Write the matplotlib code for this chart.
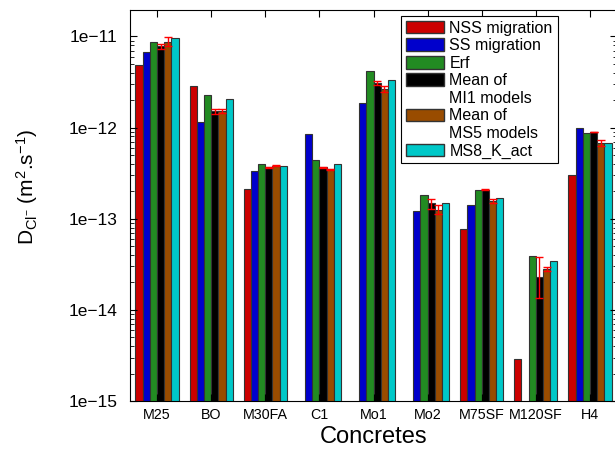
import numpy as np
import matplotlib
matplotlib.use("Agg")
import matplotlib.pyplot as plt
from matplotlib.patches import Patch
from matplotlib.ticker import FixedLocator, LogLocator, NullFormatter

plt.rcParams['font.family'] = ['Liberation Sans', 'DejaVu Sans']
plt.rcParams['mathtext.fontset'] = 'custom'
plt.rcParams['mathtext.rm'] = 'Liberation Sans'
plt.rcParams['mathtext.it'] = 'Liberation Sans'

concretes = ["M25", "BO", "M30FA", "C1", "Mo1", "Mo2", "M75SF", "M120SF", "H4"]
series_names = ["NSS migration", "SS migration", "Erf", "Mean of MI1 models",
                "Mean of MS5 models", "MS8_K_act"]
nan = np.nan
nss = [4.8e-12, 2.85e-12, 2.13e-13, nan, nan, nan, 7.8e-14, 2.9e-15, 3.05e-13]
ss = [6.7e-12, 1.16e-12, 3.37e-13, 8.4e-13, 1.84e-12, 1.23e-13, 1.43e-13, nan, 9.9e-13]
erf = [8.7e-12, 2.27e-12, 4.0e-13, 4.37e-13, 4.13e-12, 1.82e-13, 2.07e-13, 3.9e-14, 8.7e-13]
mi1 = [7.8e-12, 1.51e-12, 3.66e-13, 3.66e-13, 3.1e-12, 1.49e-13, 2.07e-13, 2.29e-14, 8.9e-13]
ms5 = [8.7e-12, 1.51e-12, 3.8e-13, 3.48e-13, 2.66e-12, 1.26e-13, 1.57e-13, 2.8e-14, 6.7e-13]
ms8 = [9.7e-12, 2.05e-12, 3.8e-13, 4.02e-13, 3.3e-12, 1.49e-13, 1.69e-13, 3.43e-14, 6.7e-13]
# error bar ranges (low, high)
mi1_low = [7.2e-12, 1.42e-12, 3.6e-13, 3.62e-13, 2.95e-12, 1.27e-13, 2.05e-13, 1.35e-14, 8.85e-13]
mi1_high = [8.3e-12, 1.58e-12, 3.72e-13, 3.7e-13, 3.28e-12, 1.66e-13, 2.12e-13, 3.8e-14, 8.95e-13]
ms5_low = [7.9e-12, 1.43e-12, 3.76e-13, 3.44e-13, 2.48e-12, 1.12e-13, 1.5e-13, 2.7e-14, 6.2e-13]
ms5_high = [9.9e-12, 1.58e-12, 3.85e-13, 3.52e-13, 2.85e-12, 1.41e-13, 1.64e-13, 2.95e-14, 7.3e-13]
ytick_vals = [1e-15, 1e-14, 1e-13, 1e-12, 1e-11]
ytick_labels = ["1e\u221215", "1e\u221214", "1e\u221213", "1e\u221212", "1e\u221211"]

colors = ["#cc0000", "#0000cc", "#228b22", "#000000", "#994c00", "#00c8c8"]
data = [nss, ss, erf, mi1, ms5, ms8]

fig = plt.figure(figsize=(6.15, 4.5), dpi=100)
ax = fig.add_axes([130/615, 49/450, 487/615, 391/450])
x = np.arange(1, len(concretes) + 1)
w = 0.8 / 6
for i, (vals, c) in enumerate(zip(data, colors)):
    xs = x - 0.4 + w * (i + 0.5)
    v = np.array(vals, dtype=float)
    ax.bar(xs, v - 1e-16, bottom=1e-16, width=w, color=c, edgecolor='#333333', linewidth=0.8)
    if i == 3:
        lo, hi = np.array(mi1_low), np.array(mi1_high)
    elif i == 4:
        lo, hi = np.array(ms5_low), np.array(ms5_high)
    else:
        continue
    ax.errorbar(xs, v, yerr=[v - lo, hi - v], fmt='none', ecolor='red', elinewidth=1, capsize=3)

ax.set_yscale('log')
ax.set_ylim(1e-15, 1.95e-11)
ax.set_xlim(0.5, 9.5)
ax.set_xticks(x)
ax.set_xticklabels(concretes, fontsize=10.3)
ax.yaxis.set_major_locator(FixedLocator(ytick_vals))
ax.set_yticklabels(ytick_labels)
ax.yaxis.set_minor_locator(LogLocator(base=10, subs=np.arange(2, 10), numticks=20))
ax.yaxis.set_minor_formatter(NullFormatter())
ax.tick_params(axis='y', labelsize=12.5, pad=9)
ax.tick_params(axis='x', pad=5)
ax.tick_params(which='both', direction='in', top=True, right=True)
ax.tick_params(which='major', length=5)
ax.tick_params(which='minor', length=3)
ax.tick_params(axis='x', which='minor', top=False, bottom=False)
for s in ax.spines.values():
    s.set_linewidth(0.8)

ax.set_xlabel("Concretes", fontsize=17, labelpad=3)
ax.set_ylabel(r"D$_{\mathregular{Cl^{-}}}$ (m$^{\mathregular{2}}$.s$^{\mathregular{-1}}$)", fontsize=15)
ax.yaxis.set_label_coords(-0.185, 0.547)

blank = Patch(facecolor='none', edgecolor='none')
handles = [Patch(facecolor=colors[0], edgecolor='#333333'),
           Patch(facecolor=colors[1], edgecolor='#333333'),
           Patch(facecolor=colors[2], edgecolor='#333333'),
           Patch(facecolor=colors[3], edgecolor='#333333'), blank,
           Patch(facecolor=colors[4], edgecolor='#333333'), blank,
           Patch(facecolor=colors[5], edgecolor='#333333')]
labels = ["NSS migration", "SS migration", "Erf", "Mean of", "MI1 models",
          "Mean of", "MS5 models", "MS8_K_act"]
leg = ax.legend(handles, labels, loc='upper left', bbox_to_anchor=(0.556, 0.985),
                borderaxespad=0, fontsize=11.5, handlelength=2.4, handleheight=0.85,
                labelspacing=0.16, handletextpad=0.35, borderpad=0.3, fancybox=False,
                framealpha=1)
leg.get_frame().set_edgecolor('black')
leg.get_frame().set_linewidth(0.8)

fig.savefig("out.png", dpi=100)
